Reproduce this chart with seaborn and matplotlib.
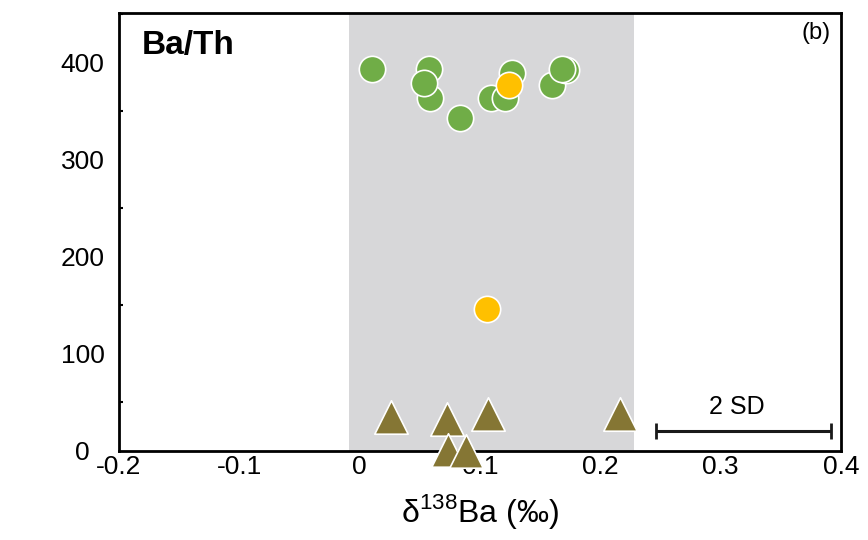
import matplotlib
matplotlib.use("Agg")
import matplotlib.pyplot as plt
from matplotlib.ticker import MultipleLocator
import seaborn as sns
import pandas as pd

# Data
green_x = [0.0105, 0.0576, 0.0588, 0.0535, 0.083, 0.109, 0.121, 0.1266, 0.1596, 0.1718, 0.1685]
green_y = [392.8, 393.0, 363.6, 379.0, 343.0, 363.6, 363.6, 389.4, 376.3, 392.0, 392.8]
yellow_x = [0.124, 0.1056]
yellow_y = [376.3, 146.4]
tri_x = [0.0258, 0.0729, 0.1067, 0.216, 0.073, 0.0887]
tri_y = [34.5, 33.3, 38.0, 38.0, 1.0, 0.0]
band = [-0.009, 0.228]
sd_bar = [0.246, 0.3915]
sd_y = 20
x_ticks = [-0.2, -0.1, 0, 0.1, 0.2, 0.3, 0.4]
x_ticklabels = ["-0.2", "-0.1", "0", "0.1", "0.2", "0.3", "0.4"]
y_ticks = [0, 100, 200, 300, 400]
y_ticklabels = ["0", "100", "200", "300", "400"]

green_df = pd.DataFrame({"x": green_x, "y": green_y})
yellow_df = pd.DataFrame({"x": yellow_x, "y": yellow_y})
tri_df = pd.DataFrame({"x": tri_x, "y": tri_y})

sns.set_style("white")
plt.rcParams['font.family'] = ['Liberation Sans', 'DejaVu Sans']
plt.rcParams['text.color'] = 'black'
plt.rcParams['xtick.color'] = 'black'
plt.rcParams['ytick.color'] = 'black'
plt.rcParams['axes.labelcolor'] = 'black'
plt.rcParams['mathtext.fontset'] = 'custom'
plt.rcParams['mathtext.rm'] = 'Liberation Sans'

fig = plt.figure(figsize=(8.68, 5.4), dpi=100)
ax = fig.add_axes([0.137, 0.165, 0.832, 0.811])

ax.axvspan(band[0], band[1], color="#d7d7d9", zorder=0, lw=0)

sns.scatterplot(data=green_df, x="x", y="y", ax=ax, color="#70AD47", s=360,
                edgecolor="white", linewidth=1.2, zorder=3, clip_on=False)
sns.scatterplot(data=yellow_df, x="x", y="y", ax=ax, color="#FFC000", s=360,
                edgecolor="white", linewidth=1.2, zorder=4, clip_on=False)
sns.scatterplot(data=tri_df, x="x", y="y", ax=ax, color="#857634", marker="^", s=580,
                edgecolor="white", linewidth=1.2, zorder=3, clip_on=False)

ax.errorbar([sum(sd_bar) / 2], [sd_y], xerr=[(sd_bar[1] - sd_bar[0]) / 2], color="#1a1a1a",
            capsize=6, elinewidth=2.2, capthick=2, fmt="none", zorder=5)
ax.text(sum(sd_bar) / 2 - 0.005, sd_y + 13, "2 SD", ha="center", va="bottom", fontsize=18)

ax.set_xlim(-0.2, 0.4)
ax.set_ylim(0, 451)
ax.set_xticks(x_ticks)
ax.set_xticklabels(x_ticklabels)
ax.set_yticks(y_ticks)
ax.set_yticklabels(y_ticklabels, ha="center")
ax.yaxis.set_minor_locator(MultipleLocator(50))
ax.tick_params(axis="both", which="major", direction="in", length=5, width=1.5, labelsize=19)
ax.tick_params(axis="y", which="minor", direction="in", length=3, width=1.5, left=True)
ax.tick_params(axis="y", pad=26)
ax.tick_params(axis="x", pad=3)
for sp in ax.spines.values():
    sp.set_linewidth(2)
    sp.set_color("black")

ax.set_xlabel("δ$^{\\mathregular{138}}$Ba (‰)", fontsize=23, labelpad=9)
ax.set_ylabel("")
ax.text(0.032, 0.925, "Ba/Th", transform=ax.transAxes, fontsize=24, fontweight="bold",
        va="center", ha="left")
ax.text(0.985, 0.955, "(b)", transform=ax.transAxes, fontsize=17, va="center", ha="right")

fig.savefig("out.png", dpi=100)
